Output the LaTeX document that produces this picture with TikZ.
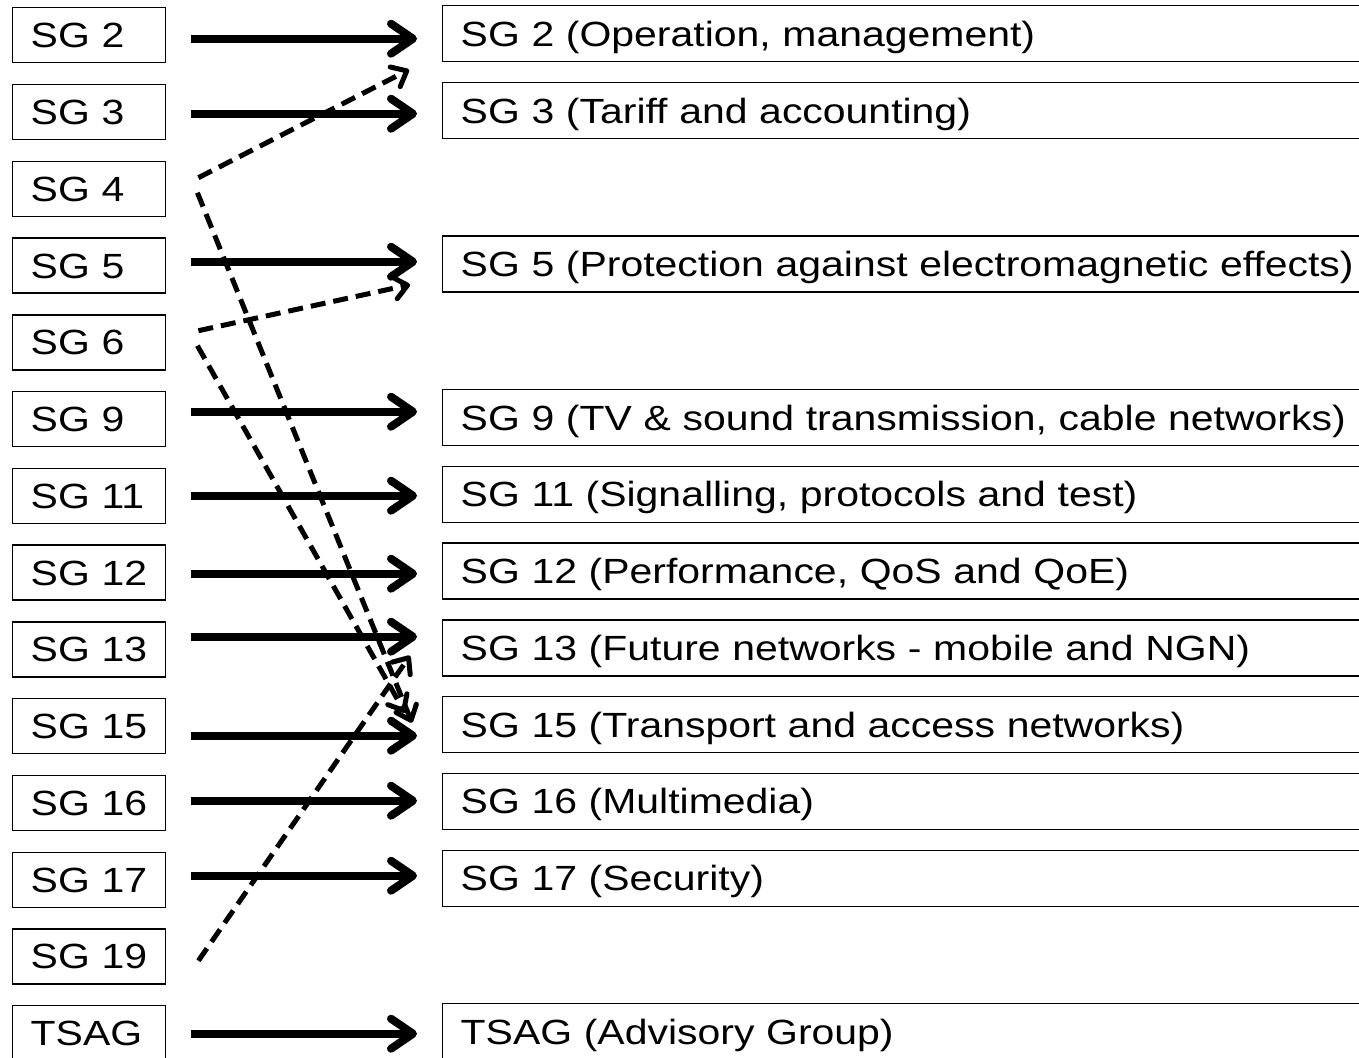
\documentclass[tikz,border=0pt]{standalone}
\usepackage{fontspec}
\setmainfont{Liberation Sans}[FakeStretch=1.17]
\usetikzlibrary{arrows.meta}
\tikzset{
  sglabel/.style={draw=black, line width=1.4pt, anchor=north west,
    minimum height=55pt, text width=117pt, inner xsep=18pt, inner ysep=0pt,
    align=left, text height=25pt, text depth=0pt,
    font=\fontsize{35}{40}\selectfont},
  sgdesc/.style={sglabel, minimum height=56pt, text width=1000pt},
  flow/.style={line width=8pt, -{Straight Barb[round,length=22pt,width=30pt]}},
  transfer/.style={line width=5pt, dash pattern=on 15pt off 8pt,
    -{Straight Barb[round,length=13pt,width=22pt]}},
}
\begin{document}
\begin{tikzpicture}[x=1pt,y=-1pt]
\useasboundingbox (0,0) rectangle (1359,1057);
\clip (0,0) rectangle (1359,1057);

% former study groups
\node[sglabel] (l2)    at (12,7)      {SG~2};
\node[sglabel] (l3)    at (12,83.8)   {SG~3};
\node[sglabel] (l4)    at (12,160.5)  {SG~4};
\node[sglabel] (l5)    at (12,237.3)  {SG~5};
\node[sglabel] (l6)    at (12,314.1)  {SG~6};
\node[sglabel] (l9)    at (12,390.9)  {SG~9};
\node[sglabel] (l11)   at (12,467.6)  {SG~11};
\node[sglabel] (l12)   at (12,544.4)  {SG~12};
\node[sglabel] (l13)   at (12,621.2)  {SG~13};
\node[sglabel] (l15)   at (12,697.9)  {SG~15};
\node[sglabel] (l16)   at (12,774.7)  {SG~16};
\node[sglabel] (l17)   at (12,851.5)  {SG~17};
\node[sglabel] (l19)   at (12,928.2)  {SG~19};
\node[sglabel] (ltsag) at (12,1005)   {TSAG};

% new study groups
\node[sgdesc] (r2)    at (442,5)     {SG 2 (Operation, management)};
\node[sgdesc] (r3)    at (442,81.8)  {SG 3 (Tariff and accounting)};
\node[sgdesc] (r5)    at (442,235.3) {SG 5 (Protection against electromagnetic effects)};
\node[sgdesc] (r9)    at (442,388.9) {SG 9 (TV \& sound transmission, cable networks)};
\node[sgdesc] (r11)   at (442,465.6) {SG 11 (Signalling, protocols and test)};
\node[sgdesc] (r12)   at (442,542.4) {SG 12 (Performance, QoS and QoE)};
\node[sgdesc] (r13)   at (442,619.2) {SG 13 (Future networks - mobile and NGN)};
\node[sgdesc] (r15)   at (442,695.9) {SG 15 (Transport and access networks)};
\node[sgdesc] (r16)   at (442,772.7) {SG 16 (Multimedia)};
\node[sgdesc] (r17)   at (442,849.5) {SG 17 (Security)};
\node[sgdesc] (rtsag) at (442,1003)  {TSAG (Advisory Group)};

% groups that continue
\draw[flow] ([xshift=25pt,yshift=-3.5pt]l2.east)  -- ([xshift=-25pt,yshift=-5pt]r2.west);
\draw[flow] ([xshift=25pt,yshift=-1.7pt]l3.east)  -- ([xshift=-25pt,yshift=-3.2pt]r3.west);
\draw[flow] ([xshift=25pt,yshift=3.8pt]l5.east)   -- ([xshift=-25pt,yshift=2.3pt]r5.west);
\draw[flow] ([xshift=25pt,yshift=7.4pt]l9.east)   -- ([xshift=-25pt,yshift=5.9pt]r9.west);
\draw[flow] ([xshift=25pt,yshift=0.1pt]l11.east)  -- ([xshift=-25pt,yshift=-1.4pt]r11.west);
\draw[flow] ([xshift=25pt,yshift=-1.1pt]l12.east) -- ([xshift=-25pt,yshift=-2.6pt]r12.west);
\draw[flow] ([xshift=25pt,yshift=12.7pt]l13.east) -- ([xshift=-25pt,yshift=11.2pt]r13.west);
\draw[flow] ([xshift=25pt,yshift=-9.6pt]l15.east) -- ([xshift=-25pt,yshift=-11.1pt]r15.west);
\draw[flow] ([xshift=25pt,yshift=2.2pt]l16.east)  -- ([xshift=-25pt,yshift=0.7pt]r16.west);
\draw[flow] ([xshift=25pt,yshift=4pt]l17.east)    -- ([xshift=-25pt,yshift=2.5pt]r17.west);
\draw[flow] ([xshift=25pt,yshift=-0.5pt]ltsag.east) -- ([xshift=-25pt,yshift=-2pt]rtsag.west);

% groups that are merged into others
\draw[transfer] ([xshift=32pt,yshift=11pt]l4.east)   -- ([xshift=-33pt,yshift=-36pt]r2.west);
\draw[transfer] ([xshift=31pt,yshift=-4pt]l4.east)   -- ([xshift=-30pt,yshift=1.9pt]r15.west);
\draw[transfer] ([xshift=32pt,yshift=11.6pt]l6.east) -- ([xshift=-32pt,yshift=-20.7pt]r5.west);
\draw[transfer] ([xshift=31pt,yshift=-3.4pt]l6.east) -- ([xshift=-37pt,yshift=11.9pt]r15.west);
\draw[transfer] ([xshift=32pt,yshift=-4.3pt]l19.east) -- ([xshift=-32pt,yshift=-7.8pt]r13.west);
\end{tikzpicture}
\end{document}
